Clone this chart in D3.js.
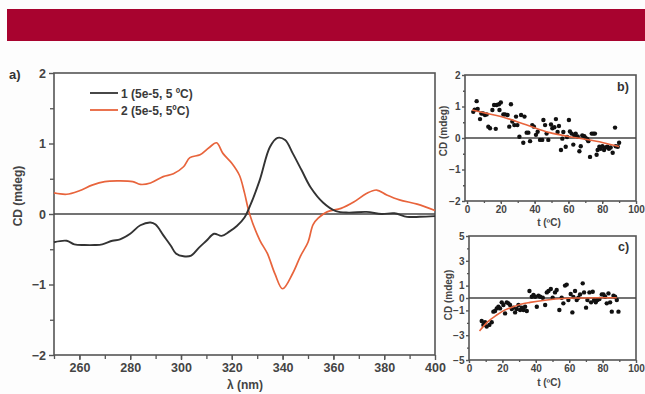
<!DOCTYPE html>
<html><head><meta charset="utf-8">
<script src="https://cdn.jsdelivr.net/npm/d3@7/dist/d3.min.js"></script>
<style>
html,body{margin:0;padding:0;background:#fdfdfd;}
svg{display:block;font-family:"Liberation Sans",Arial,sans-serif;}
</style></head><body>
<script>
// ---------- DATA ----------
const lambda1 = [250,255,258,262,266,269,273,276,280,284,288,290,293,296,298,301,304,307,310,313,316,319,322,325,327,331,335,338,341,344,347.5,351,356,361,366,373,379,384,389,394,400];
const cd1     = [-0.40,-0.38,-0.43,-0.44,-0.44,-0.43,-0.38,-0.36,-0.28,-0.16,-0.12,-0.15,-0.30,-0.45,-0.56,-0.60,-0.59,-0.48,-0.38,-0.28,-0.31,-0.25,-0.17,-0.05,0.10,0.48,0.95,1.08,1.05,0.86,0.62,0.38,0.16,0.04,0.02,0.03,0.00,0.01,-0.04,-0.04,-0.03];
const lambda2 = [250,255,260,265,270,275,281,284,288,293,297,301,303.5,307.5,311,314,316.5,320,323,325,327,331,334,337,340,344,347,350,352,354,357.5,363,368,373,377,381,386,393,400];
const cd2     = [0.30,0.28,0.33,0.41,0.46,0.47,0.46,0.42,0.44,0.53,0.57,0.67,0.80,0.84,0.94,1.01,0.86,0.72,0.55,0.30,0.00,-0.37,-0.56,-0.85,-1.06,-0.84,-0.60,-0.40,-0.15,-0.06,0.03,0.08,0.17,0.29,0.34,0.27,0.20,0.14,0.05];
const seriesNames = ["1 (5e-5, 5 ºC)", "2 (5e-5, 5ºC)"];
const xTicksA = [260,280,300,320,340,360,380,400];
const yTicksA = [-2,-1,0,1,2];

const tB  = [3.7,4.5,5.7,6.3,7.7,8.5,9.5,10.6,11.6,12.6,13.6,15,16,17,17.5,18.9,19.2,20,21.5,22.5,24,25,26,26.8,28,29,29.8,31,32,33.3,34,35.3,36.3,37.3,38.6,39.6,40.8,41.8,43.2,44.5,45.2,46.2,47.1,48.1,49.7,50.5,51.7,52.6,53.6,54.4,55.6,56.4,57,58.4,59.2,60.3,60.9,61.9,62.9,63.5,64.3,65.5,66.5,67.3,68.2,69.4,70.2,71.2,71.8,72.8,73.8,74.8,75.7,76.7,77.3,78.3,79.1,80.1,81.1,82,83,84,85,86.2,87.6,88,89.2,90];
const cdB = [0.83,0.90,1.17,0.92,0.60,0.78,0.78,0.73,0.75,0.36,0.31,0.89,1.05,0.29,1.05,1.07,0.89,1.13,0.75,0.75,0.73,0.36,1.07,0.52,0.41,0.68,0.41,0.04,0.73,-0.15,0.68,0.17,0.17,-0.10,0.41,0.36,0.10,0.20,-0.06,-0.06,0.57,0.41,0.14,-0.06,0.43,0.31,0.34,0.60,0.19,0.38,-0.38,-0.02,0.19,-0.28,0.03,0.57,0.21,0.14,-0.21,0.08,0.14,0.05,-0.42,-0.26,0.08,0.06,0.00,-0.04,-0.10,-0.60,0.14,0.14,0.14,-0.53,-0.38,-0.28,-0.34,-0.26,-0.38,-0.30,-0.28,-0.34,-0.30,-0.47,0.33,-0.26,-0.28,-0.15];
const fitBt  = [3,10,20,35,49,60,70,80,90];
const fitBcd = [0.89,0.80,0.68,0.42,0.17,0.05,-0.04,-0.14,-0.27];

const tC  = [7.6,8.6,9.6,10.6,12.2,13.6,14.6,15.6,16.6,17.6,18.6,19.6,20.6,21.6,22.6,23.6,24.6,25.6,26.6,27.6,28.6,29.6,30.6,31.6,32.6,33.6,34.6,36.2,37.6,38.6,39.6,40.6,41.6,42.6,44.2,45.6,46.6,47.6,49,50.1,51.5,52.5,54.1,55.5,56.5,57.5,58.5,59.5,60.9,61.9,62.5,63.5,64.5,65.5,66.5,68.1,68.9,70.1,70.9,72.1,73.1,74.1,74.9,75.9,76.9,78.1,79.5,80.5,81.5,82.5,83.5,84.5,85.5,86.5,87.5,88.5,89.5];
const cdC = [-1.85,-2.17,-1.95,-2.30,-2.17,-1.95,-1.10,-1.05,-0.84,-0.70,-0.84,-0.35,-0.56,-1.24,-0.35,-0.43,-0.56,-0.89,-0.78,-1.16,-0.89,-0.56,-0.97,-0.78,-0.97,-0.70,-1.05,0.56,0.10,0.24,0.10,-0.70,0.18,0.10,0.02,-0.56,0.45,0.56,0.72,0.02,0.45,0.64,-0.97,0.02,-0.43,1.00,1.08,-0.16,0.32,-1.16,0.08,0.56,-0.16,0.02,0.29,1.18,0.45,-0.78,-0.16,0.45,-0.35,0.51,-0.16,-0.35,-0.16,-0.08,0.29,0.29,0.10,-0.43,0.37,-0.35,-1.10,0.18,0.10,-0.16,-1.10];
const fitCt  = [6.3,11,16.6,21,26.6,31,36.6,46.6,56.5,66,76.5,88.5];
const fitCcd = [-2.66,-1.95,-1.37,-1.00,-0.70,-0.50,-0.35,-0.16,-0.04,0.00,0.02,0.02];

const xTicksSmall = [0,20,40,60,80,100];
const yTicksB = [-2,-1,0,1,2];
const yTicksC = [5,3,1,0,-1,-3,-5];

// ---------- DRAW ----------
const W = 645, H = 394;
const svg = d3.select("body").append("svg").attr("width", W).attr("height", H);
svg.append("rect").attr("x",7).attr("y",9).attr("width",638).attr("height",32).attr("fill","#a8032f");

const AX = "#555", BLACK = "#333", RED = "#e8643c";
const FONT = "Liberation Sans, Arial, sans-serif";

function panel(o){
  const x = d3.scaleLinear().domain(o.xd).range([o.l, o.r]);
  const y = d3.scaleLinear().domain(o.yd).range([o.b, o.t]);
  const g = svg.append("g");
  g.append("rect").attr("x",o.l).attr("y",o.t).attr("width",o.r-o.l).attr("height",o.b-o.t)
    .attr("fill","#fff").attr("stroke",AX).attr("stroke-width",1.6);
  g.append("g").attr("transform",`translate(0,${o.b})`)
    .call(d3.axisBottom(x).tickValues(o.xMinor).tickSize(o.minorLen).tickFormat(""))
    .call(s=>{s.select(".domain").remove(); s.selectAll("line").attr("stroke",AX).attr("stroke-width",1.3);});
  g.append("g").attr("transform",`translate(${o.l},0)`)
    .call(d3.axisLeft(y).tickValues(o.yMinor).tickSize(o.minorLen).tickFormat(""))
    .call(s=>{s.select(".domain").remove(); s.selectAll("line").attr("stroke",AX).attr("stroke-width",1.3);});
  g.append("g").attr("transform",`translate(0,${o.b})`)
    .call(d3.axisBottom(x).tickValues(o.xt).tickSize(o.majorLen).tickPadding(o.pad).tickFormat(d3.format("d")))
    .call(s=>{s.select(".domain").remove(); s.selectAll("line").attr("stroke",AX).attr("stroke-width",1.4);
      s.selectAll("text").attr("fill","#444").attr("font-size",o.fs).attr("font-weight","bold").attr("font-family",FONT);});
  g.append("g").attr("transform",`translate(${o.l},0)`)
    .call(d3.axisLeft(y).tickValues(o.yt).tickSize(o.majorLen).tickPadding(o.pad).tickFormat(d3.format("d")))
    .call(s=>{s.select(".domain").remove(); s.selectAll("line").attr("stroke",AX).attr("stroke-width",1.4);
      s.selectAll("text").attr("fill","#444").attr("font-size",o.fs).attr("font-weight","bold").attr("font-family",FONT);});
  g.append("line").attr("x1",o.l).attr("x2",o.r).attr("y1",y(0)).attr("y2",y(0))
    .attr("stroke","#444").attr("stroke-width",1.5);
  return {x,y,g};
}
function range(a,b,s){const r=[];for(let v=a;v<=b+1e-9;v+=s)r.push(+v.toFixed(6));return r;}

// Panel a
const A = panel({xd:[250,400], yd:[-2,2], l:54, r:435, t:73, b:355,
  xt:xTicksA, yt:yTicksA, xMinor:range(250,390,10), yMinor:range(-1.5,1.5,1),
  majorLen:5, minorLen:4, pad:3, fs:12.5});
const lineA = d3.line().x(d=>A.x(d[0])).y(d=>A.y(d[1])).curve(d3.curveCatmullRom.alpha(0.5));
A.g.append("path").datum(d3.zip(lambda2,cd2)).attr("d",lineA).attr("fill","none").attr("stroke",RED).attr("stroke-width",1.7);
A.g.append("path").datum(d3.zip(lambda1,cd1)).attr("d",lineA).attr("fill","none").attr("stroke",BLACK).attr("stroke-width",1.9);
[[BLACK,93],[RED,110]].forEach((c,i)=>{
  A.g.append("line").attr("x1",90).attr("x2",118).attr("y1",c[1]).attr("y2",c[1]).attr("stroke",c[0]).attr("stroke-width",1.8);
  A.g.append("text").attr("x",121).attr("y",c[1]+4.5).attr("font-size",12).attr("font-weight","bold").attr("fill","#3a3a3a").text(seriesNames[i]);
});
svg.append("text").attr("x",9).attr("y",79).attr("font-size",13).attr("font-weight","bold").attr("fill","#333").text("a)");
svg.append("text").attr("transform","translate(22,196) rotate(-90)").attr("text-anchor","middle").attr("font-size",12).attr("font-weight","bold").attr("fill","#444").text("CD (mdeg)");
svg.append("text").attr("x",245).attr("y",389).attr("text-anchor","middle").attr("font-size",12).attr("font-weight","bold").attr("fill","#444").text("λ (nm)");

// Panel b
const B = panel({xd:[-1.2,100], yd:[-2,2], l:465, r:636, t:75, b:201,
  xt:xTicksSmall, yt:yTicksB, xMinor:range(10,90,10), yMinor:range(-1.5,1.5,1),
  majorLen:3, minorLen:2, pad:1.5, fs:10});
const fitLineB = d3.line().x(d=>B.x(d[0])).y(d=>B.y(d[1])).curve(d3.curveMonotoneX);
B.g.selectAll("circle").data(d3.zip(tB,cdB)).join("circle")
  .attr("cx",d=>B.x(d[0])).attr("cy",d=>B.y(d[1])).attr("r",2.2).attr("fill","#111");
B.g.append("path").datum(d3.zip(fitBt,fitBcd)).attr("d",fitLineB).attr("fill","none").attr("stroke",RED).attr("stroke-width",1.6);
svg.append("text").attr("x",617).attr("y",91).attr("font-size",12.5).attr("font-weight","bold").attr("fill","#333").text("b)");
svg.append("text").attr("transform","translate(447,131) rotate(-90)").attr("text-anchor","middle").attr("font-size",10).attr("font-weight","bold").attr("fill","#444").text("CD (mdeg)");
svg.append("text").attr("x",549).attr("y",226).attr("text-anchor","middle").attr("font-size",10).attr("font-weight","bold").attr("fill","#444").text("t (ºC)");

// Panel c
const C = panel({xd:[0,100], yd:[-5,5], l:469, r:636, t:236, b:360,
  xt:xTicksSmall, yt:yTicksC, xMinor:range(10,90,10), yMinor:[4,2,-2,-4],
  majorLen:3, minorLen:2, pad:1.5, fs:10});
const fitLineC = d3.line().x(d=>C.x(d[0])).y(d=>C.y(d[1])).curve(d3.curveMonotoneX);
C.g.selectAll("circle").data(d3.zip(tC,cdC)).join("circle")
  .attr("cx",d=>C.x(d[0])).attr("cy",d=>C.y(d[1])).attr("r",2.2).attr("fill","#111");
C.g.append("path").datum(d3.zip(fitCt,fitCcd)).attr("d",fitLineC).attr("fill","none").attr("stroke",RED).attr("stroke-width",1.6);
svg.append("text").attr("x",618).attr("y",251).attr("font-size",12.5).attr("font-weight","bold").attr("fill","#333").text("c)");
svg.append("text").attr("transform","translate(452,295) rotate(-90)").attr("text-anchor","middle").attr("font-size",10).attr("font-weight","bold").attr("fill","#444").text("CD (mdeg)");
svg.append("text").attr("x",549).attr("y",386).attr("text-anchor","middle").attr("font-size",10).attr("font-weight","bold").attr("fill","#444").text("t (ºC)");
</script>
</body></html>
